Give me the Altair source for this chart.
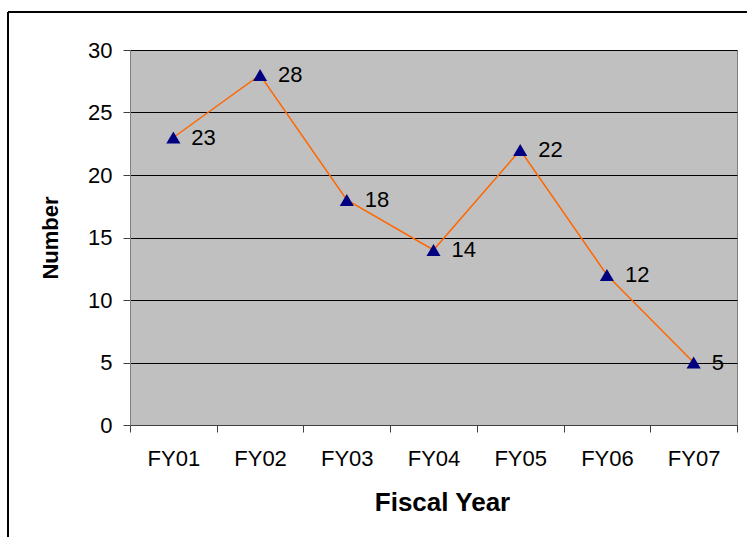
import altair as alt
import pandas as pd

years = ["FY01", "FY02", "FY03", "FY04", "FY05", "FY06", "FY07"]
counts = [23, 28, 18, 14, 22, 12, 5]

df = pd.DataFrame({"year": years, "count": counts})

FONT = "Liberation Sans"

x = alt.X("year:N", sort=years, title="Fiscal Year",
          scale=alt.Scale(paddingInner=0, paddingOuter=0),
          axis=alt.Axis(labelAngle=0, tickBand="extent", labelFontSize=22,
                        labelFont=FONT, labelColor="black", titleFont=FONT,
                        titleFontSize=26, titleFontWeight="bold", titleColor="black",
                        tickColor="#404040", tickSize=7, labelPadding=16,
                        titlePadding=20, titleX=312, domainColor="#404040", grid=False))
y = alt.Y("count:Q", title="Number",
          scale=alt.Scale(domain=[0, 30], nice=False),
          axis=alt.Axis(values=[0, 5, 10, 15, 20, 25, 30], labelFontSize=22,
                        labelFont=FONT, labelColor="black", titleFont=FONT,
                        titleFontSize=22, titleFontWeight="bold", titleColor="black",
                        tickColor="#404040", tickSize=7, labelPadding=11,
                        titlePadding=25, domainColor="#808080",
                        gridColor="black", gridWidth=1, gridOpacity=1))

base = alt.Chart(df)

frame = base.mark_rect(fill=None, stroke="black", strokeWidth=1).encode(
    x=alt.value(-122), x2=alt.value(900), y=alt.value(-38), y2=alt.value(700)
)

line = base.mark_line(color="#FF6600", strokeWidth=1.5).encode(x=x, y=y)
pts = base.mark_point(shape="triangle-up", filled=True, color="#000080",
                      size=200, opacity=1).encode(x=x, y=y)
labels = base.mark_text(align="left", dx=18, fontSize=22, font=FONT,
                        color="black").encode(x=x, y=y, text="count:Q")

chart = alt.layer(frame, line, pts, labels).properties(
    width=607, height=375,
    autosize=alt.AutoSizeParams(type="none"),
    padding={"left": 130, "top": 50, "right": 10, "bottom": 112},
    background="white",
).configure_view(fill="#C0C0C0", stroke="#808080", strokeWidth=1)

chart.save("out.html", embed_options={"renderer": "svg", "actions": False})
